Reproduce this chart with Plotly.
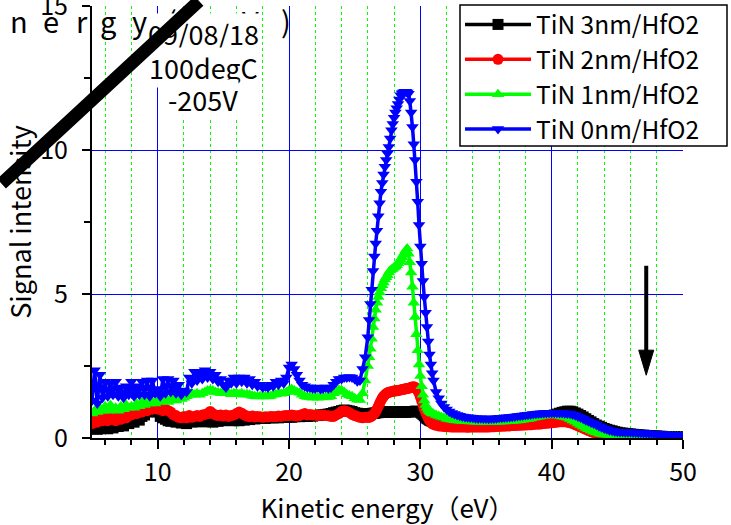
import plotly.graph_objects as go

# ---------------- data ----------------
energy = [
    5.0, 5.2, 5.4, 5.6, 5.8, 6.0, 6.2, 6.4, 6.6, 6.8, 7.0, 7.2, 7.4, 7.6, 7.8,
    8.0, 8.2, 8.4, 8.6, 8.8, 9.0, 9.2, 9.4, 9.6, 9.8, 10.0, 10.2, 10.4, 10.6, 10.8,
    11.0, 11.2, 11.4, 11.6, 11.8, 12.0, 12.2, 12.4, 12.6, 12.8, 13.0, 13.2, 13.4, 13.6, 13.8,
    14.0, 14.2, 14.4, 14.6, 14.8, 15.0, 15.2, 15.4, 15.6, 15.8, 16.0, 16.2, 16.4, 16.6, 16.8,
    17.0, 17.2, 17.4, 17.6, 17.8, 18.0, 18.2, 18.4, 18.6, 18.8, 19.0, 19.2, 19.4, 19.6, 19.8,
    20.0, 20.2, 20.4, 20.6, 20.8, 21.0, 21.2, 21.4, 21.6, 21.8, 22.0, 22.2, 22.4, 22.6, 22.8,
    23.0, 23.2, 23.4, 23.6, 23.8, 24.0, 24.2, 24.4, 24.6, 24.8, 25.0, 25.2, 25.4, 25.6, 25.8,
    26.0, 26.1, 26.2, 26.3, 26.4, 26.5, 26.6, 26.7, 26.8, 26.9,
    27.0, 27.1, 27.2, 27.3, 27.4, 27.5, 27.6, 27.7, 27.8, 27.9,
    28.0, 28.1, 28.2, 28.3, 28.4, 28.5, 28.6, 28.7, 28.8, 28.9,
    29.0, 29.1, 29.2, 29.3, 29.4, 29.5, 29.6, 29.7, 29.8, 29.9,
    30.0, 30.1, 30.2, 30.3, 30.4, 30.5, 30.6, 30.7, 30.8, 30.9, 31.0,
    31.2, 31.4, 31.6, 31.8, 32.0, 32.2, 32.4, 32.6, 32.8, 33.0, 33.2, 33.4, 33.6, 33.8, 34.0,
    34.2, 34.4, 34.6, 34.8, 35.0, 35.2, 35.4, 35.6, 35.8, 36.0, 36.2, 36.4, 36.6, 36.8, 37.0,
    37.2, 37.4, 37.6, 37.8, 38.0, 38.2, 38.4, 38.6, 38.8, 39.0, 39.2, 39.4, 39.6, 39.8, 40.0,
    40.2, 40.4, 40.6, 40.8, 41.0, 41.2, 41.4, 41.6, 41.8, 42.0, 42.2, 42.4, 42.6, 42.8, 43.0,
    43.2, 43.4, 43.6, 43.8, 44.0, 44.2, 44.4, 44.6, 44.8, 45.0, 45.2, 45.4, 45.6, 45.8, 46.0,
    46.2, 46.4, 46.6, 46.8, 47.0, 47.2, 47.4, 47.6, 47.8, 48.0, 48.2, 48.4, 48.6, 48.8, 49.0,
    49.2, 49.4, 49.6, 49.8, 50.0,
]

tin_3nm = [
    0.35, 0.45, 0.3, 0.42, 0.35, 0.4, 0.32, 0.45, 0.35, 0.42, 0.4, 0.5, 0.42, 0.55, 0.5,
    0.6, 0.55, 0.7, 0.62, 0.75, 0.8, 0.9, 1.0, 1.05, 0.98, 0.9, 0.75, 0.7, 0.65, 0.6,
    0.58, 0.6, 0.55, 0.58, 0.52, 0.55, 0.5, 0.58, 0.55, 0.6, 0.58, 0.62, 0.56, 0.6, 0.58,
    0.6, 0.55, 0.6, 0.58, 0.62, 0.6, 0.65, 0.7, 0.65, 0.6, 0.62, 0.6, 0.65, 0.62, 0.66,
    0.64, 0.68, 0.66, 0.7, 0.68, 0.7, 0.68, 0.7, 0.71, 0.7, 0.72, 0.7, 0.72, 0.74, 0.72,
    0.73, 0.72, 0.74, 0.75, 0.74, 0.75, 0.76, 0.75, 0.77, 0.76, 0.78, 0.78, 0.8, 0.8, 0.82,
    0.83, 0.85, 0.88, 0.9, 0.92, 0.95, 0.97, 0.96, 0.94, 0.92, 0.88, 0.86, 0.84, 0.83, 0.83,
    0.83, 0.84, 0.84, 0.85, 0.86, 0.86, 0.87, 0.88, 0.88, 0.89,
    0.89, 0.9, 0.89, 0.9, 0.9, 0.89, 0.9, 0.9, 0.89, 0.9,
    0.9, 0.9, 0.89, 0.9, 0.91, 0.9, 0.9, 0.91, 0.9, 0.9,
    0.91, 0.9, 0.91, 0.92, 0.92, 0.92, 0.93, 0.93, 0.92, 0.91,
    0.89, 0.86, 0.82, 0.77, 0.72, 0.68, 0.65, 0.62, 0.6, 0.58, 0.57,
    0.56, 0.55, 0.55, 0.54, 0.54, 0.54, 0.53, 0.53, 0.53, 0.53, 0.53, 0.52, 0.52, 0.52, 0.52,
    0.52, 0.52, 0.52, 0.52, 0.52, 0.52, 0.52, 0.52, 0.53, 0.53, 0.53, 0.53, 0.54, 0.54, 0.54,
    0.55, 0.55, 0.56, 0.56, 0.57, 0.58, 0.59, 0.61, 0.63, 0.65, 0.67, 0.69, 0.71, 0.74, 0.77,
    0.8, 0.83, 0.86, 0.89, 0.91, 0.93, 0.93, 0.91, 0.87, 0.83, 0.78, 0.73, 0.67, 0.61, 0.56,
    0.5, 0.45, 0.41, 0.37, 0.33, 0.3, 0.27, 0.25, 0.22, 0.2, 0.18, 0.17, 0.16, 0.15, 0.14,
    0.13, 0.12, 0.11, 0.1, 0.1, 0.09, 0.08, 0.08, 0.07, 0.07, 0.06, 0.06, 0.05, 0.05, 0.05,
    0.04, 0.04, 0.04, 0.04, 0.04,
]

tin_2nm = [
    0.5, 0.65, 0.55, 0.7, 0.6, 0.7, 0.6, 0.75, 0.65, 0.6, 0.75, 0.65, 0.8, 0.7, 0.85,
    0.8, 0.9, 0.85, 0.95, 0.9, 1.0, 0.95, 1.05, 1.0, 1.05, 1.0, 1.05, 0.95, 1.0, 0.95,
    0.9, 0.8, 0.78, 0.72, 0.7, 0.75, 0.7, 0.78, 0.72, 0.75, 0.78, 0.75, 0.8, 0.82, 0.85,
    0.92, 0.85, 0.8, 0.78, 0.8, 0.76, 0.8, 0.75, 0.78, 0.8, 0.85, 0.9, 0.86, 0.8, 0.76,
    0.74, 0.76, 0.73, 0.75, 0.74, 0.72, 0.74, 0.73, 0.75, 0.74, 0.74, 0.76, 0.75, 0.77, 0.78,
    0.78, 0.8, 0.78, 0.76, 0.78, 0.82, 0.85, 0.8, 0.82, 0.8, 0.8, 0.78, 0.8, 0.79, 0.78,
    0.77, 0.75, 0.75, 0.8, 0.85, 0.92, 0.95, 0.92, 0.88, 0.82, 0.78, 0.75, 0.72, 0.7, 0.72,
    0.72, 0.72, 0.74, 0.76, 0.8, 0.85, 0.92, 1.0, 1.1, 1.2,
    1.3, 1.38, 1.45, 1.5, 1.54, 1.57, 1.59, 1.6, 1.61, 1.62,
    1.63, 1.64, 1.64, 1.65, 1.66, 1.67, 1.68, 1.69, 1.7, 1.71,
    1.72, 1.73, 1.74, 1.76, 1.77, 1.78, 1.76, 1.72, 1.65, 1.55,
    1.43, 1.29, 1.15, 1.01, 0.89, 0.79, 0.69, 0.61, 0.55, 0.5, 0.47,
    0.44, 0.42, 0.41, 0.4, 0.39, 0.39, 0.38, 0.38, 0.38, 0.38, 0.38, 0.38, 0.37, 0.38, 0.38,
    0.38, 0.38, 0.38, 0.38, 0.38, 0.38, 0.39, 0.39, 0.4, 0.4, 0.41, 0.41, 0.42, 0.42, 0.43,
    0.43, 0.44, 0.44, 0.45, 0.45, 0.46, 0.46, 0.47, 0.48, 0.48, 0.49, 0.5, 0.51, 0.52, 0.53,
    0.54, 0.55, 0.56, 0.56, 0.56, 0.55, 0.53, 0.5, 0.46, 0.42, 0.38, 0.34, 0.3, 0.26, 0.22,
    0.19, 0.16, 0.13, 0.11, 0.09, 0.08, 0.07, 0.06, 0.05, 0.05, 0.05, 0.04, 0.04, 0.04, 0.04,
    0.04, 0.04, 0.03, 0.03, 0.03, 0.03, 0.03, 0.03, 0.03, 0.03, 0.03, 0.02, 0.02, 0.02, 0.02,
    0.02, 0.02, 0.02, 0.02, 0.02,
]

tin_1nm = [
    0.85, 0.95, 0.9, 1.05, 0.95, 1.1, 0.95, 1.15, 1.0, 1.05, 0.95, 1.1, 1.0, 1.15, 1.05,
    1.1, 1.05, 1.2, 1.1, 1.25, 1.15, 1.3, 1.2, 1.25, 1.2, 1.5, 1.25, 1.35, 1.4, 1.25,
    1.3, 1.5, 1.3, 1.45, 1.35, 1.4, 1.45, 1.5, 1.55, 1.5, 1.55, 1.5, 1.55, 1.6, 1.65,
    1.66, 1.65, 1.6, 1.58, 1.56, 1.55, 1.58, 1.55, 1.52, 1.55, 1.55, 1.52, 1.55, 1.5, 1.52,
    1.5, 1.47, 1.45, 1.44, 1.45, 1.44, 1.45, 1.44, 1.46, 1.5, 1.52, 1.55, 1.54, 1.55, 1.6,
    1.66, 1.7, 1.65, 1.6, 1.57, 1.5, 1.45, 1.42, 1.42, 1.4, 1.42, 1.4, 1.42, 1.41, 1.42,
    1.42, 1.45, 1.55, 1.62, 1.67, 1.66, 1.6, 1.52, 1.48, 1.45, 1.38, 1.33, 1.32, 1.55, 2.0,
    2.5, 2.8, 3.1, 3.45, 3.85, 4.15, 4.45, 4.7, 4.9, 5.05,
    5.2, 5.3, 5.4, 5.5, 5.58, 5.65, 5.75, 5.82, 5.85, 5.88,
    5.92, 5.95, 6.0, 6.07, 6.14, 6.2, 6.28, 6.36, 6.44, 6.52,
    6.58, 6.4, 6.1, 5.75, 5.25, 4.7, 4.2, 3.6, 3.05, 2.55,
    2.15, 1.8, 1.5, 1.3, 1.15, 1.05, 0.98, 0.93, 0.89, 0.86, 0.84,
    0.8, 0.76, 0.73, 0.7, 0.67, 0.65, 0.63, 0.62, 0.61, 0.6, 0.59, 0.58, 0.58, 0.57, 0.57,
    0.56, 0.56, 0.56, 0.55, 0.55, 0.55, 0.55, 0.56, 0.56, 0.56, 0.57, 0.57, 0.58, 0.58, 0.59,
    0.6, 0.61, 0.62, 0.63, 0.65, 0.66, 0.68, 0.7, 0.72, 0.74, 0.76, 0.77, 0.78, 0.79, 0.79,
    0.79, 0.78, 0.77, 0.75, 0.73, 0.7, 0.66, 0.61, 0.56, 0.5, 0.45, 0.4, 0.35, 0.3, 0.26,
    0.22, 0.19, 0.16, 0.14, 0.12, 0.11, 0.1, 0.09, 0.08, 0.08, 0.07, 0.07, 0.07, 0.06, 0.06,
    0.06, 0.06, 0.05, 0.05, 0.05, 0.05, 0.05, 0.05, 0.05, 0.05, 0.05, 0.05, 0.05, 0.05, 0.05,
    0.04, 0.04, 0.04, 0.04, 0.04,
]

tin_0nm = [
    1.3, 2.35, 1.2, 2.2, 1.4, 1.95, 1.45, 1.9, 1.5, 1.95, 1.45, 1.75, 1.4, 1.8, 1.5,
    1.95, 1.45, 1.8, 1.5, 1.95, 1.5, 2.0, 1.45, 2.0, 1.55, 1.7, 1.45, 2.05, 1.55, 2.05,
    1.6, 2.0, 1.55, 1.85, 1.5, 1.65, 1.6, 2.1, 1.9, 2.3, 2.0, 2.3, 2.05, 2.35, 2.1,
    2.3, 2.05, 2.2, 1.95, 2.05, 1.85, 1.75, 2.0, 1.9, 2.1, 1.9, 2.1, 1.95, 2.1, 1.9,
    2.05, 1.85, 1.95, 1.8, 1.85, 1.75, 1.8, 1.75, 1.85, 1.8, 1.95, 1.85, 2.0, 1.9, 2.1,
    2.45, 2.55, 2.4, 2.2, 2.0, 1.85, 1.8, 1.75, 1.75, 1.72, 1.72, 1.75, 1.7, 1.72, 1.75,
    1.72, 1.75, 1.85, 1.95, 2.05, 2.05, 2.1, 2.1, 2.12, 2.1, 2.05, 1.97, 2.0, 2.4, 2.8,
    3.5, 4.1, 4.65, 5.15, 5.8, 6.3, 6.75, 7.2, 7.7, 8.15,
    8.55, 8.85, 9.15, 9.42, 9.65, 9.88, 10.1, 10.4, 10.69, 10.9,
    11.12, 11.3, 11.45, 11.6, 11.75, 11.9, 11.97, 12.0, 12.02, 12.02,
    12.0, 11.95, 11.7, 11.3, 10.8, 10.2, 9.65, 8.9, 8.2, 7.4,
    6.65, 6.05, 5.45, 4.9, 4.35, 3.85, 3.35, 2.9, 2.55, 2.25, 2.0,
    1.6, 1.38, 1.2, 1.08, 0.99, 0.92, 0.87, 0.83, 0.8, 0.77, 0.75, 0.73, 0.72, 0.71, 0.7,
    0.69, 0.68, 0.69, 0.68, 0.68, 0.67, 0.68, 0.68, 0.69, 0.7, 0.7, 0.71, 0.72, 0.73, 0.74,
    0.75, 0.76, 0.77, 0.78, 0.8, 0.81, 0.82, 0.83, 0.84, 0.85, 0.86, 0.87, 0.87, 0.88, 0.88,
    0.88, 0.88, 0.87, 0.87, 0.86, 0.85, 0.84, 0.82, 0.79, 0.75, 0.71, 0.67, 0.62, 0.58, 0.54,
    0.5, 0.46, 0.41, 0.37, 0.33, 0.3, 0.27, 0.25, 0.23, 0.22, 0.21, 0.21, 0.2, 0.2, 0.2,
    0.19, 0.19, 0.18, 0.18, 0.17, 0.17, 0.16, 0.16, 0.15, 0.14, 0.14, 0.13, 0.13, 0.12, 0.12,
    0.11, 0.11, 0.1, 0.1, 0.09,
]

series_names = ["TiN 3nm/HfO2", "TiN 2nm/HfO2", "TiN 1nm/HfO2", "TiN 0nm/HfO2"]
series_values = [tin_3nm, tin_2nm, tin_1nm, tin_0nm]
series_colors = ["#000000", "#ff0000", "#00ff00", "#0000ff"]
series_symbols = ["square", "circle", "triangle-up", "triangle-down"]

note_lines = ["09/08/18", "100degC", "-205V"]
stray_chars = ["n", "e", "r", "g", "y", "(", "e", "V", ")"]

FONT = "Noto Sans CJK JP"

fig = go.Figure()
for name, vals, col, sym in zip(series_names, series_values, series_colors, series_symbols):
    fig.add_trace(go.Scatter(
        x=energy, y=vals, name=name, mode="lines+markers",
        line=dict(color=col, width=3.5),
        marker=dict(color=col, symbol=sym, size=11, line=dict(width=0)),
    ))

W, H = 731, 525
L, R, T, B = 92, 48, 6, 87
pw, ph = W - L - R, H - T - B


def px2paper(px, py):
    return (px - L) / pw, (H - B - py) / ph


fig.update_layout(
    template="none",
    width=W, height=H,
    margin=dict(l=L, r=R, t=T, b=B, pad=0, autoexpand=False),
    paper_bgcolor="white", plot_bgcolor="white",
    font=dict(family=FONT, size=25, color="black"),
    showlegend=True,
    legend=dict(
        x=px2paper(460, 0)[0], y=px2paper(0, 2)[1], xanchor="left", yanchor="top",
        bgcolor="rgba(0,0,0,0)", borderwidth=0,
        font=dict(family=FONT, size=24.5, color="black"),
        itemwidth=66, tracegroupgap=0,
    ),
)

fig.update_xaxes(
    range=[5, 50], tickmode="linear", tick0=0, dtick=10,
    showline=True, linecolor="black", linewidth=2, mirror=False,
    ticks="outside", ticklen=9, tickwidth=2, tickcolor="black",
    showgrid=True, gridcolor="#0000ff", gridwidth=1, griddash="solid", zeroline=False,
    layer="below traces",
    tickfont=dict(family=FONT, size=25, color="black"), ticklabelstandoff=2,
    title=dict(text="Kinetic energy\uff08eV\uff09", font=dict(family=FONT, size=26, color="black"), standoff=6),
    minor=dict(dtick=2, tick0=0, ticks="outside", ticklen=5, tickwidth=2, tickcolor="black",
               showgrid=True, gridcolor="#00ff00", griddash="dot", gridwidth=1),
)
fig.update_yaxes(
    range=[0, 15], tickmode="linear", tick0=0, dtick=5,
    showline=True, linecolor="black", linewidth=2, mirror=False,
    ticks="outside", ticklen=8, tickwidth=2, tickcolor="black",
    showgrid=True, gridcolor="#0000ff", gridwidth=1, griddash="solid", zeroline=False,
    layer="below traces", ticklabeloverflow="allow",
    tickfont=dict(family=FONT, size=25, color="black"), ticklabelstandoff=9,
    title=dict(text="Signal intensity", font=dict(family=FONT, size=27, color="black"), standoff=1),
    minor=dict(dtick=2.5, tick0=0, ticks="outside", ticklen=6, tickwidth=2, tickcolor="black",
               showgrid=False),
)

# legend frame (white box with black border)
lx0, ly0 = px2paper(460, 146)
lx1, ly1 = px2paper(727, 5)
fig.add_shape(type="rect", xref="paper", yref="paper", x0=lx0, y0=ly0, x1=lx1, y1=ly1,
              fillcolor="white", line=dict(color="black", width=1.5), layer="above")

# down arrow on the right (shaft + head)
fig.add_shape(type="line", xref="x", yref="y", x0=47.2, x1=47.2, y0=5.98, y1=2.9,
              line=dict(color="black", width=4), layer="above")
fig.add_shape(type="path", xref="x", yref="y",
              path="M 46.63 3.05 L 47.77 3.05 L 47.2 2.18 Z",
              fillcolor="black", line=dict(color="black", width=1), layer="above")

# stray large characters at the top-left
char_px = [19, 51, 82, 108, 139, 172, 218, 251, 286]
for ch, cx in zip(stray_chars, char_px):
    xp, yp = px2paper(cx, 20)
    fig.add_annotation(text=ch, x=xp, y=yp, xref="paper", yref="paper",
                       xanchor="center", yanchor="middle", showarrow=False,
                       font=dict(family=FONT, size=29, color="black"))

# note text (each line with white background)
for line_text, cy in zip(note_lines, [33, 67, 100]):
    xp, yp = px2paper(203, cy)
    fig.add_annotation(text=line_text, x=xp, y=yp, xref="paper", yref="paper",
                       xanchor="center", yanchor="middle", showarrow=False,
                       bgcolor="white", borderpad=0,
                       font=dict(family=FONT, size=27, color="black"))

# thick black diagonal stroke across the top-left corner
hx, hy = px2paper(199, -23)
fig.add_annotation(text=" ", x=hx, y=hy, xref="paper", yref="paper",
                   ax=-230, ay=208, showarrow=True, arrowhead=0,
                   arrowwidth=13, arrowcolor="black", standoff=0, startstandoff=0,
                   font=dict(size=1))

fig.write_html("out.html")
